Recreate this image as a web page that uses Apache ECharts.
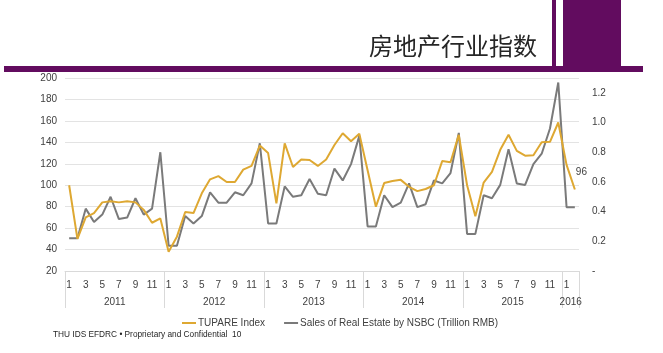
<!DOCTYPE html>
<html>
<head>
<meta charset="utf-8">
<style>
  html, body { margin: 0; padding: 0; background: #fff; }
  #chart { width: 663px; height: 353px; }
</style>
<script src="https://cdn.jsdelivr.net/npm/echarts@6/dist/echarts.min.js"></script>
</head>
<body>
<div id="chart"></div>
<script>
// 月份 2011-01 ~ 2016-02
var years = ["2011", "2012", "2013", "2014", "2015", "2016"];
var yearMonths = [12, 12, 12, 12, 12, 2];

// TUPARE Index (左轴)
var tupare = [
  100, 50, 70, 74, 84, 85, 84, 85, 84, 77, 65, 69,
  38, 52, 75, 74, 92.5, 105.5, 108.5, 103, 103, 114.5, 118, 137,
  130, 83, 139, 117, 124, 123.5, 118, 124, 137.5, 148.5, 141, 148,
  114, 80, 102, 104, 105, 98.5, 94.5, 96.5, 100, 122.5, 121.5, 147,
  100, 71, 102.5, 112.5, 133, 147, 132, 127.5, 128, 140, 140.5, 158.5,
  119, 96
];

// Sales of Real Estate by NSBC, Trillion RMB (右轴)
var sales = [
  0.22, 0.22, 0.42, 0.33, 0.38, 0.50, 0.35, 0.36, 0.49, 0.38, 0.42, 0.80,
  0.17, 0.17, 0.37, 0.32, 0.37, 0.53, 0.46, 0.46, 0.53, 0.51, 0.59, 0.86,
  0.32, 0.32, 0.57, 0.50, 0.51, 0.62, 0.52, 0.51, 0.69, 0.61, 0.72, 0.91,
  0.30, 0.30, 0.51, 0.43, 0.46, 0.59, 0.43, 0.45, 0.61, 0.59, 0.66, 0.93,
  0.25, 0.25, 0.51, 0.49, 0.58, 0.82, 0.59, 0.58, 0.72, 0.79, 0.96, 1.27,
  0.43, 0.43
];

var seriesNames = ["TUPARE Index", "Sales of Real Estate by NSBC (Trillion RMB)"];

(function () {
  var myChart = echarts.init(document.getElementById("chart"));
  var font = "Liberation Sans, Arial, sans-serif";
  var purple = "#620c5f";
  var gold = "#dea832";
  var gray = "#7a7a7a";

  // 月份类目 & 年份分隔
  var months = [];
  var yearStarts = [0];
  var yearCenters = [];
  var pos = 0;
  yearMonths.forEach(function (n) {
    for (var m = 1; m <= n; m++) months.push(String(m));
    yearCenters.push(pos + n / 2);
    pos += n;
    yearStarts.push(pos);
  });

  // 最后一个点标注数值
  var tupareData = tupare.map(function (v, i) {
    if (i === tupare.length - 1) {
      return {
        value: v,
        label: {
          show: true, position: "right", offset: [-4, -17],
          color: "#404040", fontSize: 10, fontFamily: font
        }
      };
    }
    return v;
  });

  var option = {
    animation: false,
    title: {
      text: "房地产行业指数",
      left: 364,
      top: 29,
      textStyle: {
        fontFamily: "Noto Sans CJK SC",
        fontSize: 24,
        fontWeight: "normal",
        color: "#262626"
      }
    },
    graphic: [
      { type: "rect", shape: { x: 4, y: 66, width: 639, height: 6 }, style: { fill: purple } },
      { type: "rect", shape: { x: 552, y: 0, width: 4, height: 66 }, style: { fill: purple } },
      { type: "rect", shape: { x: 563, y: 0, width: 58, height: 66 }, style: { fill: purple } },
      {
        type: "text", left: 53, top: 331,
        style: {
          text: "THU IDS EFDRC • Proprietary and Confidential  10",
          fill: "#262626", font: "8.3px " + font
        }
      }
    ],
    legend: {
      left: 176,
      top: 313,
      itemWidth: 14,
      itemHeight: 2,
      itemGap: 18,
      textStyle: { fontFamily: font, fontSize: 10, color: "#404040", padding: [0, 0, 0, -3] },
      data: seriesNames
    },
    grid: { left: 65, right: 84, top: 78, bottom: 82 },
    xAxis: [
      {
        type: "category",
        data: months,
        boundaryGap: true,
        axisLine: { lineStyle: { color: "#d9d9d9" } },
        axisTick: { show: false },
        axisLabel: {
          interval: function (index) { return index % 2 === 0; },
          margin: 9,
          fontSize: 10,
          color: "#404040",
          fontFamily: font
        }
      },
      {
        type: "value",
        position: "bottom",
        min: 0,
        max: months.length,
        axisLine: { show: false },
        splitLine: { show: false },
        axisTick: {
          show: true,
          customValues: yearStarts,
          length: 37,
          lineStyle: { color: "#d9d9d9" }
        },
        axisLabel: {
          customValues: yearCenters,
          margin: 26,
          fontSize: 10,
          color: "#404040",
          fontFamily: font,
          formatter: function (v) {
            var i = yearCenters.indexOf(v);
            return i >= 0 ? years[i] : "";
          }
        }
      }
    ],
    yAxis: [
      {
        type: "value",
        min: 20,
        max: 200,
        interval: 20,
        axisLine: { show: false },
        axisTick: { show: false },
        splitLine: { lineStyle: { color: "#e3e3e3" } },
        axisLabel: { fontSize: 10, color: "#404040", fontFamily: font, margin: 8 }
      },
      {
        type: "value",
        min: 0,
        max: 1.3,
        interval: 0.2,
        axisLine: { show: false },
        axisTick: { show: false },
        splitLine: { show: false },
        axisLabel: {
          fontSize: 10, color: "#404040", fontFamily: font, margin: 13,
          formatter: function (v) {
            if (v === 0) return "-";
            if (v > 1.25) return "";
            return v.toFixed(1);
          }
        }
      }
    ],
    series: [
      {
        name: seriesNames[0],
        type: "line",
        data: tupareData,
        yAxisIndex: 0,
        xAxisIndex: 0,
        symbol: "circle",
        symbolSize: 0,
        showSymbol: true,
        color: gold,
        lineStyle: { width: 2, color: gold },
        z: 3
      },
      {
        name: seriesNames[1],
        type: "line",
        data: sales,
        yAxisIndex: 1,
        xAxisIndex: 0,
        symbol: "none",
        color: gray,
        lineStyle: { width: 2, color: gray },
        z: 2
      }
    ]
  };

  myChart.setOption(option);
  window.addEventListener("resize", function () {
    myChart.resize();
  });
})();
</script>
</body>
</html>
